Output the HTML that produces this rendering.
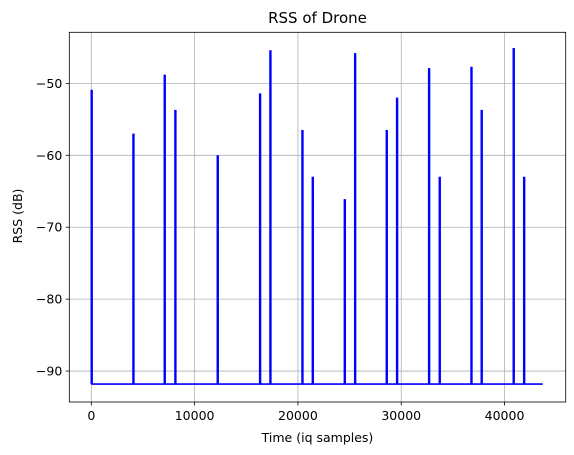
<!DOCTYPE html>
<html><head><meta charset="utf-8"><style>
html,body{margin:0;padding:0;background:#fff;}
svg{display:block;font-family:"DejaVu Sans","Liberation Sans",sans-serif;}
</style></head><body>
<svg id="chart" width="574" height="455" viewBox="0 0 574 455" xmlns="http://www.w3.org/2000/svg">
<rect width="574" height="455" fill="#fff"/>
<g id="grid"></g>
<g id="series"></g>
<g id="axes"></g>
<text x="317.5" y="23" font-size="15" text-anchor="middle">RSS of Drone</text>
<text x="317.5" y="442" font-size="12.5" text-anchor="middle">Time (iq samples)</text>
<text transform="translate(22,216) rotate(-90)" font-size="12.5" text-anchor="middle">RSS (dB)</text>
</svg>
<script>
const spikeTimes = [0, 4040, 7070, 8100, 12200, 16300, 17300, 20400, 21400, 24500, 25500, 28560, 29560, 32660, 33690, 36760, 37750, 40850, 41860];
const spikePeaks = [-51.0, -57.1, -48.9, -53.8, -60.1, -51.5, -45.5, -56.6, -63.1, -66.2, -45.9, -56.6, -52.1, -48.0, -63.1, -47.8, -53.8, -45.2, -63.1];
const baseline = -91.8;
const endTime = 43700;
const xTicks = [0, 10000, 20000, 30000, 40000];
const yTicks = [-50, -60, -70, -80, -90];

const L = 69.3, R = 565.7, T = 32.3, B = 402;
const xMin = -2130, xMax = 45920, yMin = -94.3, yMax = -42.9;
const xs = v => L + (v - xMin) / (xMax - xMin) * (R - L);
const ys = v => B - (v - yMin) / (yMax - yMin) * (B - T);
const NS = "http://www.w3.org/2000/svg";
function mk(tag, attrs, parent) {
  const e = document.createElementNS(NS, tag);
  for (const k in attrs) e.setAttribute(k, attrs[k]);
  parent.appendChild(e);
  return e;
}
const grid = document.getElementById('grid');
const axes = document.getElementById('axes');
const series = document.getElementById('series');

xTicks.forEach(t => {
  const x = xs(t);
  const g = mk('line', {x1: x, x2: x, y1: T, y2: B, stroke: '#b0b0b0', 'stroke-width': 0.8}, grid);
  
  
  mk('line', {x1: x, x2: x, y1: B, y2: B + 3.5, stroke: '#000', 'stroke-width': 0.8}, axes);
  const lb = mk('text', {x: x, y: B + 18, 'font-size': 12.5, 'text-anchor': 'middle'}, axes);
  lb.textContent = String(t);
  
  
});
yTicks.forEach(t => {
  const y = ys(t);
  const g = mk('line', {x1: L, x2: R, y1: y, y2: y, stroke: '#b0b0b0', 'stroke-width': 0.8}, grid);
  
  
  mk('line', {x1: L - 3.5, x2: L, y1: y, y2: y, stroke: '#000', 'stroke-width': 0.8}, axes);
  const lb = mk('text', {x: L - 7, y: y + 4.5, 'font-size': 12.5, 'text-anchor': 'end'}, axes);
  lb.textContent = '\u2212' + Math.abs(t);
  
  
});
const frame = mk('rect', {x: L, y: T, width: R - L, height: B - T, fill: 'none', stroke: '#000', 'stroke-width': 0.8}, axes);



let pts = [];
spikeTimes.forEach((t, i) => {
  const x = xs(t);
  pts.push([x, ys(baseline)], [x, ys(spikePeaks[i])], [x + 0.8, ys(spikePeaks[i])], [x + 0.8, ys(baseline)]);
});
pts.push([xs(endTime), ys(baseline)]);
const line = mk('polyline', {points: pts.map(p => p[0].toFixed(2) + ',' + p[1].toFixed(2)).join(' '), fill: 'none', stroke: '#0000ff', 'stroke-width': 1.6, 'stroke-linejoin': 'miter'}, series);


</script>
</body></html>
